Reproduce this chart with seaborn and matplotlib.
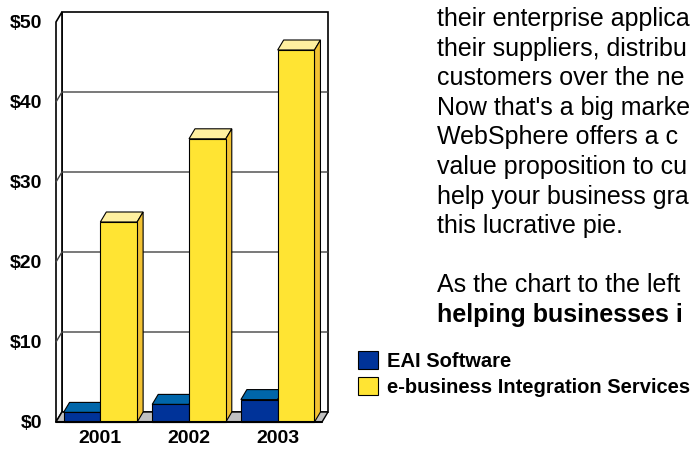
import numpy as np
import pandas as pd
import matplotlib
matplotlib.use("Agg")
import matplotlib.pyplot as plt
from matplotlib.patches import Polygon, Rectangle, Patch
import seaborn as sns

# ---- data ----
years = ["2001", "2002", "2003"]
series_names = ["EAI Software", "e-business Integration Services"]
eai_values = [1.2, 2.2, 2.8]
ebiz_values = [25.0, 35.4, 46.5]
y_ticks = [0, 10, 20, 30, 40, 50]
y_tick_labels = ["$0", "$10", "$20", "$30", "$40", "$50"]
body_lines = [
    "their enterprise applica",
    "their suppliers, distribu",
    "customers over the ne",
    "Now that's a big marke",
    "WebSphere offers a c",
    "value proposition to cu",
    "help your business gra",
    "this lucrative pie.",
    "",
    "As the chart to the left",
]
bold_line = "helping businesses i"

# ---- style ----
front_colors = ["#003399", "#FFE433"]
top_colors = ["#0066AA", "#FFF0A0"]
side_colors = ["#002A80", "#F2C233"]

sns.set_style("white")
plt.rcParams["font.family"] = ["Liberation Sans", "DejaVu Sans"]
plt.rcParams["text.color"] = "black"
plt.rcParams["xtick.color"] = "black"
plt.rcParams["ytick.color"] = "black"
plt.rcParams["xtick.labelcolor"] = "black"
plt.rcParams["ytick.labelcolor"] = "black"

df = pd.DataFrame({
    "year": years * 2,
    "value": eai_values + ebiz_values,
    "series": [series_names[0]] * len(years) + [series_names[1]] * len(years),
})

W, H = 693, 449
fig = plt.figure(figsize=(W / 100, H / 100), dpi=100)
ax = fig.add_axes([56 / W, (H - 422) / H, (328 - 56) / W, (422 - 12) / H])

ddx = 6 / 89.0
ddy = 1.25

sns.barplot(data=df, x="year", y="value", hue="series", hue_order=series_names,
            palette=front_colors, width=0.83, gap=0, edgecolor="black",
            linewidth=0.8, saturation=1, legend=False, errorbar=None, ax=ax)

x0, x1 = -0.5, 2.5
ax.set_xlim(x0, x1 + ddx)
ax.set_ylim(0, 50 + ddy)

# walls and floor
ax.add_patch(Rectangle((x0 + ddx, ddy), x1 - x0, 50, fc="white", ec="black",
                       lw=1.2, zorder=0.5, clip_on=False))
ax.add_patch(Polygon([(x0, 0), (x0 + ddx, ddy), (x0 + ddx, 50 + ddy), (x0, 50)],
                     closed=True, fc="white", ec="black", lw=1.2, zorder=0.6,
                     clip_on=False))
for v in y_ticks[1:-1]:
    ax.plot([x0, x0 + ddx, x1 + ddx], [v, v + ddy, v + ddy], color="#444444",
            lw=1, zorder=0.7, clip_on=False)
ax.add_patch(Polygon([(x0, 0), (x1, 0), (x1 + ddx, ddy), (x0 + ddx, ddy)],
                     closed=True, fc="#C0C0C0", ec="black", lw=1, zorder=1,
                     clip_on=False))

# 3D faces of bars
for i, cont in enumerate(ax.containers):
    for bar in cont:
        x, w, h = bar.get_x(), bar.get_width(), bar.get_height()
        ax.add_patch(Polygon([(x, h), (x + w, h), (x + w + ddx, h + ddy), (x + ddx, h + ddy)],
                             closed=True, fc=top_colors[i], ec="black", lw=0.8,
                             zorder=3, clip_on=False))
        ax.add_patch(Polygon([(x + w, 0), (x + w + ddx, ddy), (x + w + ddx, h + ddy), (x + w, h)],
                             closed=True, fc=side_colors[i], ec="black", lw=0.8,
                             zorder=3, clip_on=False))
        bar.set_zorder(4)
        bar.set_clip_on(False)

ax.plot([x0, x1], [0, 0], color="black", lw=1.5, zorder=5, clip_on=False)

ax.set_yticks(y_ticks, y_tick_labels)
ax.tick_params(axis="y", length=0, pad=10, labelsize=14, labelcolor="black")
ax.tick_params(axis="x", length=0, pad=6, labelsize=14, labelcolor="black")
for lab in ax.get_xticklabels() + ax.get_yticklabels():
    lab.set_fontweight("bold")
ax.set_xlabel("")
ax.set_ylabel("")
for s in ax.spines.values():
    s.set_visible(False)
ax.patch.set_alpha(0)
ax.grid(False)

# legend
handles = [Patch(fc=front_colors[i], ec="black", lw=0.8, label=series_names[i])
           for i in range(len(series_names))]
fig.legend(handles=handles, loc="upper left", bbox_to_anchor=(358 / W, 1 - 351 / H),
           frameon=False, prop={"weight": "bold", "size": 14.5}, handlelength=1.0,
           handleheight=1.0, handletextpad=0.42, labelspacing=0.32, borderpad=0,
           borderaxespad=0, labelcolor="black")

# body text
for k, line in enumerate(body_lines):
    if line:
        fig.text(437 / W, 1 - (26 + 29.6 * k) / H, line, fontsize=18,
                 va="baseline", ha="left", color="black")
fig.text(437 / W, 1 - (26 + 29.6 * len(body_lines)) / H, bold_line, fontsize=18,
         fontweight="bold", va="baseline", ha="left", color="black")

fig.savefig("out.png", dpi=100)
